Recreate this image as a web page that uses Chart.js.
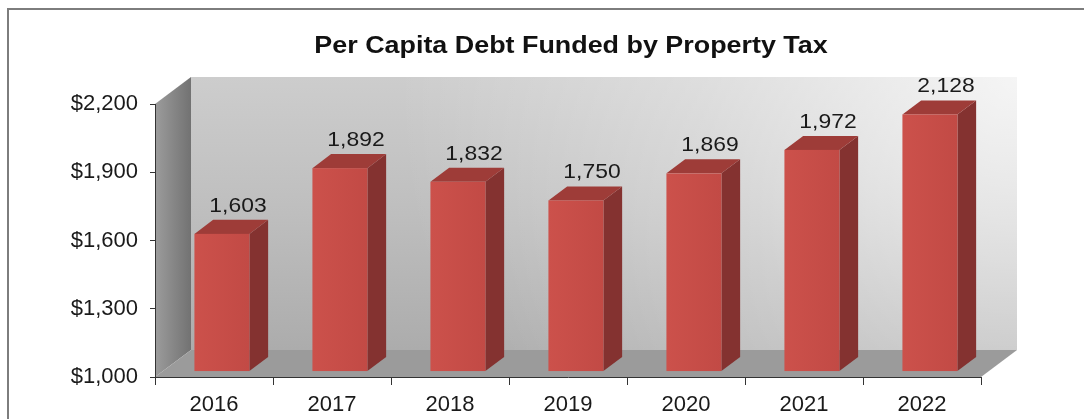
<!DOCTYPE html>
<html>
<head>
<meta charset="utf-8">
<script src="https://cdn.jsdelivr.net/npm/chart.js@4/dist/chart.umd.min.js"></script>
<style>
  html, body { margin: 0; padding: 0; background: #fff; }
  .wrap { width: 1084px; height: 419px; position: relative; }
</style>
</head>
<body>
<div class="wrap"><canvas id="debtChart" width="1084" height="419"></canvas></div>
<script>
const TITLE = 'Per Capita Debt Funded by Property Tax';
const YEARS = ['2016', '2017', '2018', '2019', '2020', '2021', '2022'];
const DEBT_PER_CAPITA = [1603, 1892, 1832, 1750, 1869, 1972, 2128];
const Y_MIN = 1000;
const Y_MAX = 2200;
const Y_STEP = 300;

// depth of the 3d box, in px, and where the bars sit inside it
const DEPTH_X = 36;
const DEPTH_Y = -27;
const BAR_FRONT = 0.22;
const BAR_BACK = 0.74;

const FONT = '"Liberation Sans", Arial, sans-serif';

// text drawn a little wider than the font gives
function wideText(ctx, text, x, y, sx) {
  ctx.save();
  ctx.translate(x, y);
  ctx.scale(sx, 1);
  ctx.fillText(text, 0, 0);
  ctx.restore();
}

const frame = {
  id: 'frame',
  beforeDraw(chart) {
    const ctx = chart.ctx;
    const {left, right, top, bottom} = chart.chartArea;
    ctx.save();
    ctx.fillStyle = '#fff';
    ctx.fillRect(0, 0, chart.width, chart.height);

    // outer border
    ctx.strokeStyle = '#7d7d7d';
    ctx.lineWidth = 2;
    ctx.beginPath();
    ctx.moveTo(8, chart.height + 2);
    ctx.lineTo(8, 9);
    ctx.lineTo(chart.width + 2, 9);
    ctx.stroke();

    // title
    ctx.fillStyle = '#111';
    ctx.font = 'bold 24px ' + FONT;
    ctx.textAlign = 'center';
    ctx.textBaseline = 'middle';
    wideText(ctx, TITLE, 571, 46, 1.12);

    // back wall
    const wx = left + DEPTH_X, wy = top + DEPTH_Y;
    const ww = right - left, wh = bottom - top;
    const bg = ctx.createLinearGradient(0, wy + wh, 0, wy);
    bg.addColorStop(0, '#acacac');
    bg.addColorStop(0.5, '#bebebe');
    bg.addColorStop(1, '#cdcdcd');
    ctx.fillStyle = bg;
    ctx.fillRect(wx, wy, ww, wh);
    const glow = ctx.createRadialGradient(wx + ww, wy, 0, wx + ww, wy, 620);
    glow.addColorStop(0, 'rgba(255,255,255,0.8)');
    glow.addColorStop(0.5, 'rgba(255,255,255,0.35)');
    glow.addColorStop(1, 'rgba(255,255,255,0)');
    ctx.fillStyle = glow;
    ctx.fillRect(wx, wy, ww, wh);

    // left wall
    const lw = ctx.createLinearGradient(left, 0, left + DEPTH_X, 0);
    lw.addColorStop(0, '#9c9c9c');
    lw.addColorStop(1, '#727272');
    ctx.fillStyle = lw;
    ctx.beginPath();
    ctx.moveTo(left, top);
    ctx.lineTo(left + DEPTH_X, top + DEPTH_Y);
    ctx.lineTo(left + DEPTH_X, bottom + DEPTH_Y);
    ctx.lineTo(left, bottom);
    ctx.closePath();
    ctx.fill();

    // floor
    ctx.fillStyle = '#9b9b9b';
    ctx.beginPath();
    ctx.moveTo(left, bottom);
    ctx.lineTo(right, bottom);
    ctx.lineTo(right + DEPTH_X, bottom + DEPTH_Y);
    ctx.lineTo(left + DEPTH_X, bottom + DEPTH_Y);
    ctx.closePath();
    ctx.fill();
    ctx.restore();
  }
};

const boxes = {
  id: 'boxes',
  afterDatasetsDraw(chart) {
    const ctx = chart.ctx;
    const meta = chart.getDatasetMeta(0);
    const data = chart.data.datasets[0].data;
    const base = chart.scales.y.getPixelForValue(Y_MIN);
    ctx.save();
    meta.data.forEach((bar, i) => {
      const half = bar.width / 2;
      const fx = DEPTH_X * BAR_FRONT, fy = DEPTH_Y * BAR_FRONT;
      const bx = DEPTH_X * BAR_BACK, by = DEPTH_Y * BAR_BACK;
      const xl = bar.x - half, xr = bar.x + half;

      // side
      ctx.fillStyle = '#843230';
      ctx.beginPath();
      ctx.moveTo(xr + fx, bar.y + fy);
      ctx.lineTo(xr + bx, bar.y + by);
      ctx.lineTo(xr + bx, base + by);
      ctx.lineTo(xr + fx, base + fy);
      ctx.closePath();
      ctx.fill();

      // top
      ctx.fillStyle = '#9e3c38';
      ctx.beginPath();
      ctx.moveTo(xl + fx, bar.y + fy);
      ctx.lineTo(xr + fx, bar.y + fy);
      ctx.lineTo(xr + bx, bar.y + by);
      ctx.lineTo(xl + bx, bar.y + by);
      ctx.closePath();
      ctx.fill();

      // front
      const fg = ctx.createLinearGradient(xl + fx, 0, xr + fx, 0);
      fg.addColorStop(0, '#cc514b');
      fg.addColorStop(1, '#c24a45');
      ctx.fillStyle = fg;
      ctx.fillRect(xl + fx, bar.y + fy, bar.width, base - bar.y);

      // value label
      ctx.fillStyle = '#1a1a1a';
      ctx.font = '21px ' + FONT;
      ctx.textAlign = 'center';
      ctx.textBaseline = 'middle';
      wideText(ctx, data[i].toLocaleString('en-US'), bar.x + 24, bar.y + by - 14, 1.09);
    });
    ctx.restore();
  }
};

new Chart(document.getElementById('debtChart'), {
  type: 'bar',
  data: {
    labels: YEARS,
    datasets: [{
      data: DEBT_PER_CAPITA,
      backgroundColor: 'rgba(0,0,0,0)',
      categoryPercentage: 1,
      barPercentage: 0.466,
    }]
  },
  options: {
    responsive: false,
    animation: false,
    events: [],
    layout: {padding: {left: 20, right: 103, top: 104, bottom: 0}},
    plugins: {
      legend: {display: false},
      tooltip: {enabled: false},
      title: {display: false},
    },
    scales: {
      x: {
        offset: true,
        grid: {offset: true, drawOnChartArea: false, color: '#333', tickLength: 8},
        border: {color: '#333', width: 1},
        ticks: {color: '#1a1a1a', font: {family: FONT, size: 22}, padding: 7, maxRotation: 0},
        afterFit: (s) => { s.height = 42; },
      },
      y: {
        min: Y_MIN,
        max: Y_MAX,
        grid: {drawOnChartArea: false, color: '#333', tickLength: 5},
        border: {color: '#333', width: 1},
        ticks: {
          stepSize: Y_STEP,
          color: '#1a1a1a',
          font: {family: FONT, size: 22},
          padding: 12,
          callback: (v) => '$' + v.toLocaleString('en-US'),
        },
        afterFit: (s) => { s.width = 135; },
      }
    }
  },
  plugins: [frame, boxes]
});
</script>
</body>
</html>
